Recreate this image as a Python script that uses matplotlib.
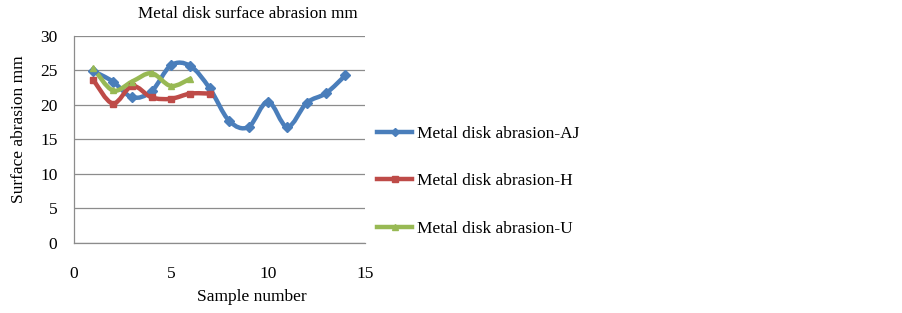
import matplotlib
matplotlib.use('Agg')
import matplotlib.pyplot as plt
from matplotlib.path import Path
from matplotlib.patches import PathPatch
from matplotlib.lines import Line2D
import numpy as np

plt.rcParams.update({
    'font.family': 'serif',
    'font.serif': ['Liberation Serif', 'DejaVu Serif'],
    'font.size': 12,
})

# Data
samples_aj = [1, 2, 3, 4, 5, 6, 7, 8, 9, 10, 11, 12, 13, 14]
abrasion_aj = [24.9, 23.4, 21.1, 22.0, 25.75, 25.65, 22.4, 17.7, 16.8, 20.5, 16.8, 20.3, 21.7, 24.3]
samples_h = [1, 2, 3, 4, 5, 6, 7]
abrasion_h = [23.6, 20.2, 22.75, 21.1, 20.9, 21.65, 21.65]
samples_u = [1, 2, 3, 4, 5, 6]
abrasion_u = [25.3, 22.1, 23.4, 24.6, 22.75, 23.8]

labels = ['Metal disk abrasion-AJ', 'Metal disk abrasion-H', 'Metal disk abrasion-U']
colors = ['#4a7ebb', '#be4b48', '#98b954']
markers = ['D', 's', '^']


def smooth_path(xs, ys, tension=1.0 / 6):
    """Excel-like smoothed line as cubic bezier through the points."""
    pts = np.column_stack([xs, ys]).astype(float)
    n = len(pts)
    verts = [pts[0]]
    codes = [Path.MOVETO]
    for i in range(n - 1):
        p0 = pts[i - 1] if i > 0 else pts[i]
        p1 = pts[i]
        p2 = pts[i + 1]
        p3 = pts[i + 2] if i + 2 < n else pts[i + 1]
        c1 = p1 + (p2 - p0) * tension
        c2 = p2 - (p3 - p1) * tension
        verts += [c1, c2, p2]
        codes += [Path.CURVE4] * 3
    return Path(verts, codes)


fig = plt.figure(figsize=(9.03, 3.13), dpi=100)
ax = fig.add_axes([0.082, 0.224, 0.322, 0.661])

series = [(samples_aj, abrasion_aj), (samples_h, abrasion_h), (samples_u, abrasion_u)]
for (xs, ys), col, mk in zip(series, colors, markers):
    ax.add_patch(PathPatch(smooth_path(xs, ys), facecolor='none',
                           edgecolor=col, linewidth=3.2, zorder=3,
                           capstyle='round'))
    ax.plot(xs, ys, linestyle='none', marker=mk, markersize=5,
            color=col, zorder=4)

ax.set_xlim(0, 15)
ax.set_ylim(0, 30)
ax.set_xticks([0, 5, 10, 15])
ax.set_yticks(range(0, 31, 5))
ax.tick_params(axis='y', length=0, pad=12, labelsize=12.5)
ax.tick_params(axis='x', length=0, pad=17, labelsize=12.5)
ax.yaxis.grid(True, color='#8c8c8c', linewidth=0.9)
ax.set_axisbelow(True)
for s in ['top', 'right']:
    ax.spines[s].set_visible(False)
for s in ['left', 'bottom']:
    ax.spines[s].set_color('#8c8c8c')
    ax.spines[s].set_linewidth(0.9)

fig.text(252 / 903, 1 - 297 / 313, 'Sample number', ha='center',
         va='center', fontsize=12.5)
fig.text(19 / 903, 1 - 129 / 313, 'Surface abrasion mm', ha='center',
         va='center', rotation=90, fontsize=12.5)
fig.text(248 / 903, 1 - 14 / 313, 'Metal disk surface abrasion mm',
         ha='center', va='center', fontsize=12.3)

handles = [Line2D([0], [0], color=c, marker=m, linewidth=3.2, markersize=4)
           for c, m in zip(colors, markers)]
fig.legend(handles, labels, loc='upper left', bbox_to_anchor=(0.418, 0.598),
           frameon=False, fontsize=12.5, handlelength=2.0, labelspacing=1.8,
           handletextpad=0.3, borderaxespad=0, borderpad=0)

fig.savefig('out.png', dpi=100)
